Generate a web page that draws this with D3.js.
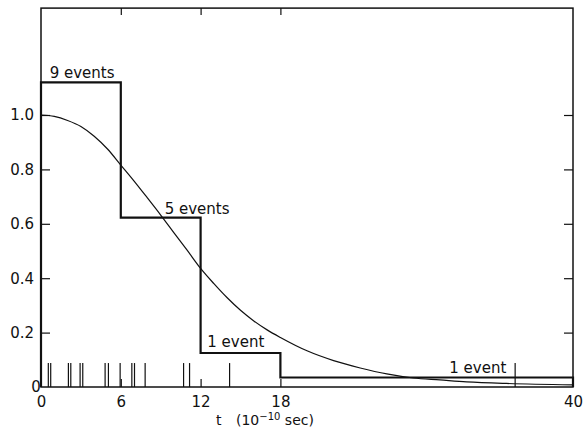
<!DOCTYPE html>
<html>
<head>
<meta charset="utf-8">
<script src="https://cdn.jsdelivr.net/npm/d3@7"></script>
<style>
  html, body { margin: 0; padding: 0; background: #fff; }
  svg { display: block; }
  text { font-family: "DejaVu Sans", sans-serif; fill: #111; }
</style>
</head>
<body>
<svg id="chart" width="587" height="436"></svg>
<script>
// ---- data ----
const binEdges = [0, 6, 12, 18, 40];
const binHeights = [1.12, 0.623, 0.125, 0.035];
const binLabels = ["9 events", "5 events", "1 event", "1 event"];

const curveT = [0, 1, 2, 3, 4, 5, 6, 7, 8, 9, 10, 11, 12, 13, 14, 15, 16, 17, 18, 20, 22, 24, 26, 28, 30, 32, 35, 40];
const curveV = [1.0, 0.995, 0.98, 0.958, 0.922, 0.875, 0.816, 0.757, 0.695, 0.632, 0.567, 0.502, 0.436, 0.38, 0.328, 0.282, 0.243, 0.21, 0.182, 0.133, 0.097, 0.07, 0.048, 0.033, 0.026, 0.019, 0.013, 0.008];

const eventTimes = [0.55, 0.73, 2.06, 2.24, 2.94, 3.14, 4.82, 5.07, 5.95, 6.83, 7.03, 7.83, 10.72, 11.17, 14.18, 35.65];

const xTickValues = [0, 6, 12, 18, 40];
const yTickValues = [0.2, 0.4, 0.6, 0.8, 1.0];
const yTickLabels = ["0.2", "0.4", "0.6", "0.8", "1.0"];

// ---- layout ----
const svg = d3.select("#chart");
const left = 41, right = 573, bottom = 387, pxPerUnit = 272;
const yTop = 1.393;
const x = d3.scaleLinear().domain([0, 40]).range([left, right]);
const y = d3.scaleLinear().domain([0, yTop]).range([bottom, bottom - yTop * pxPerUnit]);

// frame
svg.append("rect")
  .attr("x", x(0)).attr("y", y(yTop))
  .attr("width", x(40) - x(0)).attr("height", y(0) - y(yTop))
  .attr("fill", "none").attr("stroke", "#111").attr("stroke-width", 1.5);

// left axis (inward ticks)
const gl = svg.append("g").attr("transform", `translate(${x(0)},0)`)
  .call(d3.axisLeft(y).tickValues(yTickValues).tickSizeInner(-9).tickSizeOuter(0).tickPadding(7)
    .tickFormat((d, i) => yTickLabels[i]));
gl.select(".domain").remove();
gl.selectAll("line").attr("stroke", "#111").attr("stroke-width", 1.2);
gl.selectAll("text").style("font-size", "15px").attr("fill", "#111");

// right axis ticks
const gr = svg.append("g").attr("transform", `translate(${x(40)},0)`)
  .call(d3.axisRight(y).tickValues(yTickValues).tickSizeInner(-9).tickSizeOuter(0).tickFormat(""));
gr.select(".domain").remove();
gr.selectAll("line").attr("stroke", "#111").attr("stroke-width", 1.2);

// bottom axis
const gb = svg.append("g").attr("transform", `translate(0,${y(0)})`)
  .call(d3.axisBottom(x).tickValues(xTickValues).tickSizeInner(0).tickSizeOuter(0).tickPadding(9)
    .tickFormat(d3.format("d")));
gb.select(".domain").remove();
gb.selectAll("text").style("font-size", "15px").attr("fill", "#111");
const gb2 = svg.append("g").attr("transform", `translate(0,${y(0)})`)
  .call(d3.axisBottom(x).tickValues([6, 12, 18]).tickSizeInner(-8).tickSizeOuter(0).tickFormat(""));
gb2.select(".domain").remove();
gb2.selectAll("line").attr("stroke", "#111").attr("stroke-width", 1.2);

// top axis ticks
const gt = svg.append("g").attr("transform", `translate(0,${y(yTop)})`)
  .call(d3.axisTop(x).tickValues([6, 12, 18]).tickSizeInner(-7).tickSizeOuter(0).tickFormat(""));
gt.select(".domain").remove();
gt.selectAll("line").attr("stroke", "#111").attr("stroke-width", 1.2);

// y zero label
svg.append("text").attr("x", x(0) - 5).attr("y", y(0) + 5)
  .attr("text-anchor", "middle").style("font-size", "15px").text("0");

// rug of event times
svg.append("g").selectAll("line").data(eventTimes).join("line")
  .attr("x1", d => x(d)).attr("x2", d => x(d))
  .attr("y1", y(0)).attr("y2", y(0.088))
  .attr("stroke", "#111").attr("stroke-width", 1.2);

// smooth curve
const line = d3.line().x(d => x(d[0])).y(d => y(d[1])).curve(d3.curveMonotoneX);
svg.append("path").datum(curveT.map((t, i) => [t, curveV[i]]))
  .attr("d", line).attr("fill", "none").attr("stroke", "#111").attr("stroke-width", 1.2);

// step histogram
const stepPts = [[binEdges[0], 0]];
binHeights.forEach((h, i) => { stepPts.push([binEdges[i], h]); stepPts.push([binEdges[i + 1], h]); });
stepPts.push([binEdges[binEdges.length - 1], 0]);
svg.append("path").datum(stepPts)
  .attr("d", d3.line().x(d => x(d[0])).y(d => y(d[1])))
  .attr("fill", "none").attr("stroke", "#111").attr("stroke-width", 2.2).attr("stroke-linejoin", "miter");

// bin labels
const labelPos = [[0.65, 1.12, 4], [9.3, 0.623, 4], [12.5, 0.125, 6], [30.7, 0.035, 4]];
svg.append("g").selectAll("text").data(binLabels).join("text")
  .attr("x", (d, i) => x(labelPos[i][0]))
  .attr("y", (d, i) => y(labelPos[i][1]) - labelPos[i][2])
  .style("font-size", "15px").text(d => d);

// x axis title
const title = svg.append("text").attr("x", 216).attr("y", 425).style("font-size", "14px");
title.append("tspan").text("t");
title.append("tspan").attr("x", 236).text("(10");
title.append("tspan").attr("dy", -5).style("font-size", "10px").text("\u221210");
title.append("tspan").attr("dy", 5).text(" sec)");
</script>
</body>
</html>
